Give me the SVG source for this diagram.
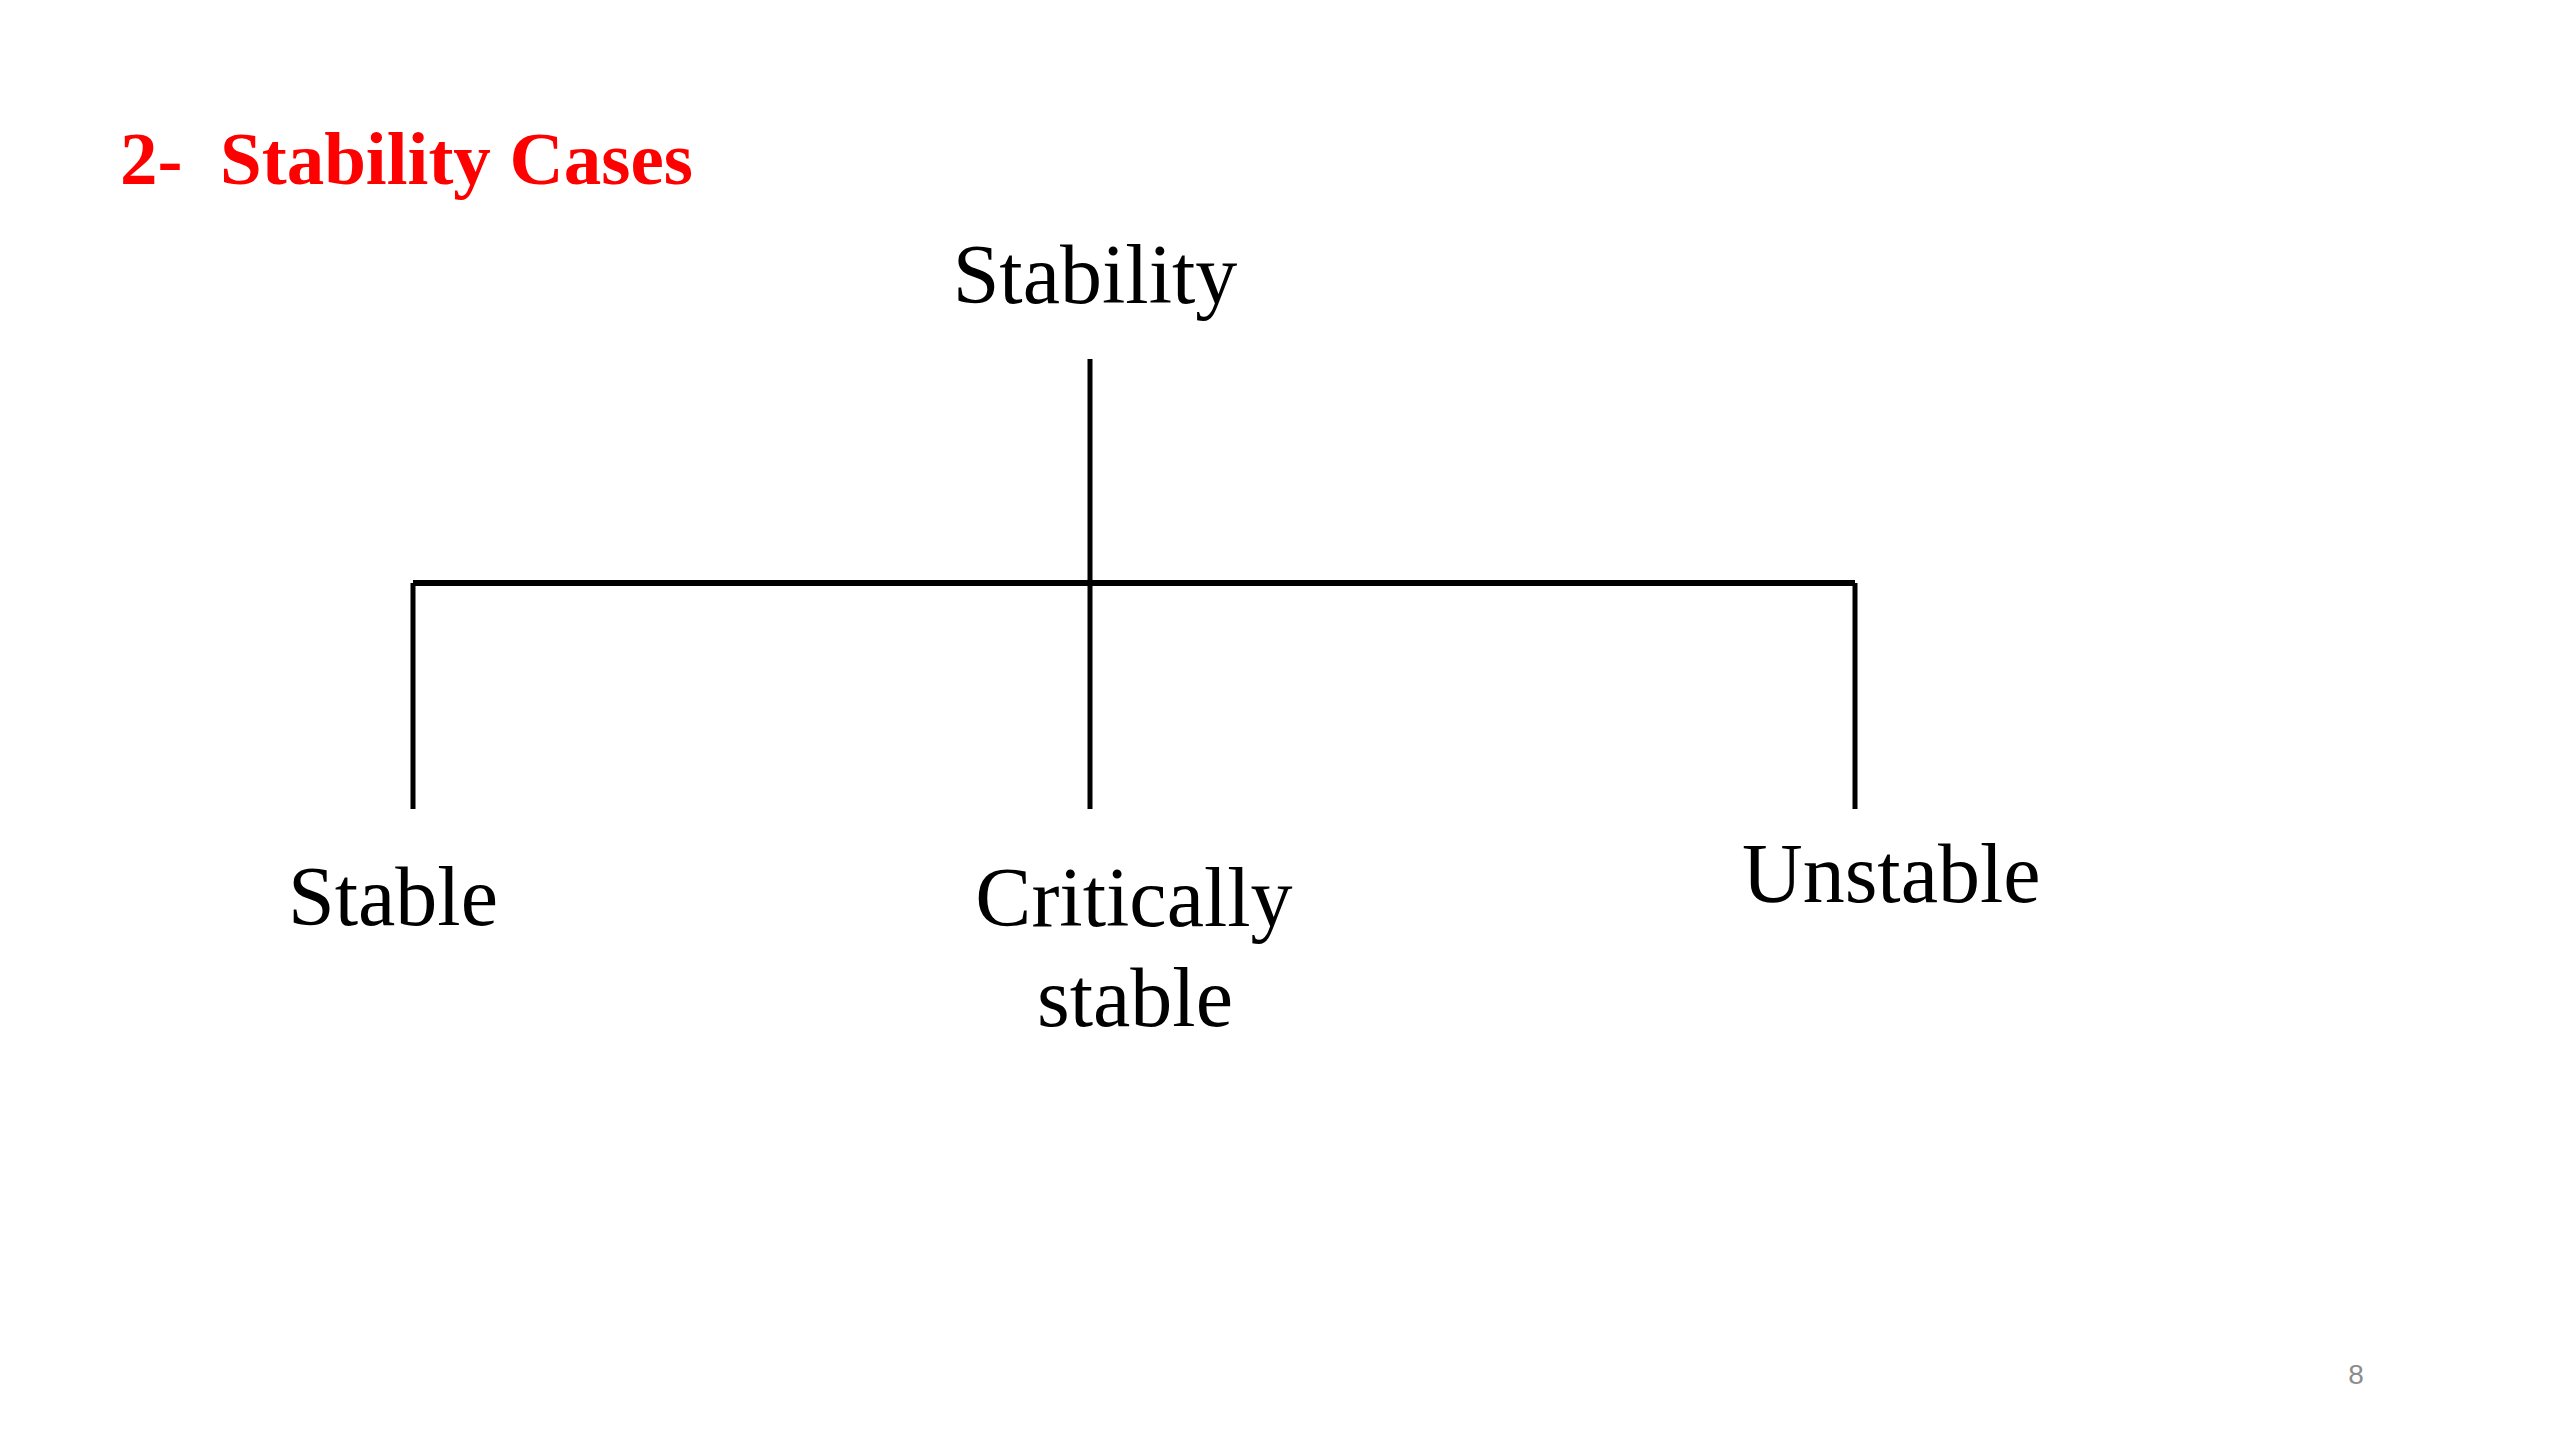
<svg xmlns="http://www.w3.org/2000/svg" width="2560" height="1440" viewBox="0 0 2560 1440">
<style>
.t{font-family:"Liberation Serif","Times New Roman",serif;font-size:84px;fill:#000}
.title{font-family:"Liberation Serif","Times New Roman",serif;font-size:75px;font-weight:bold;fill:#ff0000}
.pg{font-family:"Liberation Sans",Arial,sans-serif;font-size:28px;fill:#8c8c8c}
.c{stroke:#000;fill:none}
</style>
<rect width="2560" height="1440" fill="#fff"/>
<text class="title" x="120" y="184" xml:space="preserve">2-  Stability Cases</text>
<g id="connectors">
<line class="c" x1="1090" y1="359" x2="1090" y2="809" stroke-width="5"/>
<line class="c" x1="413" y1="583" x2="1855" y2="583" stroke-width="6"/>
<line class="c" x1="413" y1="583" x2="413" y2="809" stroke-width="5"/>
<line class="c" x1="1855" y1="583" x2="1855" y2="809" stroke-width="5"/>
</g>
<g id="node-stability"><text class="t" x="1095" y="303" text-anchor="middle">Stability</text></g>
<g id="node-stable"><text class="t" x="288" y="925">Stable</text></g>
<g id="node-critically-stable"><text class="t" x="1134" y="926" text-anchor="middle">Critically</text><text class="t" x="1135" y="1026" text-anchor="middle">stable</text></g>
<g id="node-unstable"><text class="t" x="1742" y="902">Unstable</text></g>
<text class="pg" x="2356" y="1384" text-anchor="middle">8</text>
</svg>
